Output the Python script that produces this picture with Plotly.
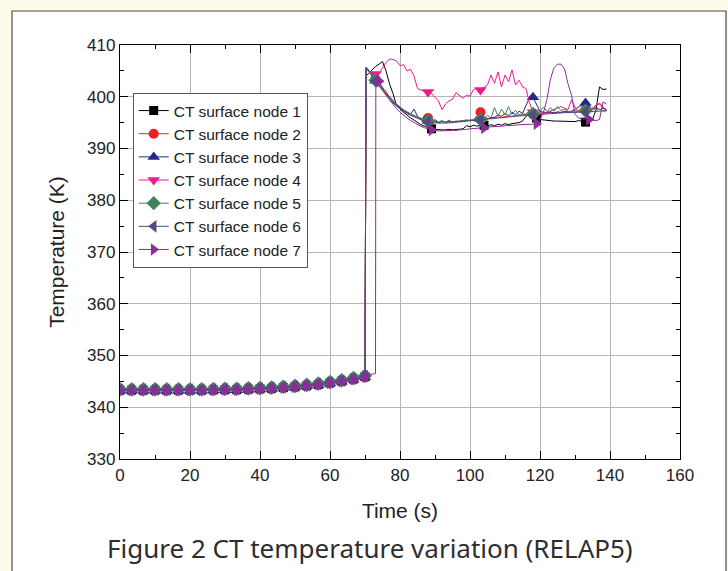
import plotly.graph_objects as go

# ---------------- data ----------------
NAMES = ["CT surface node 1", "CT surface node 2", "CT surface node 3", "CT surface node 4",
         "CT surface node 5", "CT surface node 6", "CT surface node 7"]

T_EARLY = [0, 3.33, 6.67, 10, 13.33, 16.67, 20, 23.33, 26.67, 30, 33.33, 36.67,
           40, 43.33, 46.67, 50, 53.33, 56.67, 60, 63.33, 66.67, 70]

EARLY_1 = [343.3, 343.3, 343.3, 343.3, 343.3, 343.3, 343.3, 343.3, 343.35, 343.4, 343.4, 343.5,
           343.55, 343.65, 343.8, 343.95, 344.15, 344.4, 344.7, 345.05, 345.45, 345.9]
EARLY_2 = [343.3, 343.3, 343.3, 343.3, 343.3, 343.3, 343.3, 343.3, 343.35, 343.4, 343.4, 343.5,
           343.55, 343.65, 343.8, 343.95, 344.15, 344.4, 344.7, 345.05, 345.45, 345.9]
EARLY_3 = [343.2, 343.2, 343.2, 343.2, 343.2, 343.2, 343.2, 343.2, 343.25, 343.3, 343.3, 343.4,
           343.45, 343.55, 343.7, 343.85, 344.05, 344.3, 344.6, 344.95, 345.35, 345.8]
EARLY_4 = [343.1, 343.1, 343.1, 343.1, 343.1, 343.1, 343.1, 343.1, 343.15, 343.2, 343.2, 343.3,
           343.35, 343.45, 343.6, 343.75, 343.95, 344.2, 344.5, 344.85, 345.25, 345.7]
EARLY_5 = [343.5, 343.5, 343.5, 343.5, 343.5, 343.5, 343.5, 343.5, 343.55, 343.6, 343.6, 343.7,
           343.75, 343.85, 344.0, 344.15, 344.35, 344.6, 344.9, 345.25, 345.65, 346.1]
EARLY_6 = [343.4, 343.4, 343.4, 343.4, 343.4, 343.4, 343.4, 343.4, 343.45, 343.5, 343.5, 343.6,
           343.65, 343.75, 343.9, 344.05, 344.25, 344.5, 344.8, 345.15, 345.55, 346.0]
EARLY_7 = [343.3, 343.3, 343.3, 343.3, 343.3, 343.3, 343.3, 343.3, 343.35, 343.4, 343.4, 343.5,
           343.55, 343.65, 343.8, 343.95, 344.15, 344.4, 344.7, 345.05, 345.45, 345.9]

T_LATE = [70.3, 71, 72, 73, 73.1, 74, 75, 76, 77, 78, 79, 80, 81, 82, 83, 84, 85, 86, 87, 88, 89,
          90, 91, 92, 93, 94, 95, 96, 97, 98, 99, 100, 101, 102, 103, 104, 105, 106, 107, 108, 109,
          110, 111, 112, 113, 114, 115, 116, 117, 118, 119, 120, 121, 122, 123, 124, 125, 126, 127,
          128, 129, 130, 131, 132, 133, 134, 135, 136, 137, 138, 139]

LATE_1 = [404.0, 404.5, 405.2, 405.8, 405.9, 406.3, 406.8, 405.0, 402.5, 400.6, 398.3, 397.6,
          397.0, 396.4, 395.9, 395.5, 395.0, 394.6, 394.3, 394.0, 393.8, 393.7, 393.6, 393.6,
          393.6, 393.7, 393.6, 393.7, 393.7, 393.8, 394.4, 394.2, 394.5, 394.3, 394.6, 394.5,
          394.3, 394.6, 394.4, 394.7, 394.5, 394.8, 394.6, 394.8, 394.9, 395.0, 395.3, 396.2,
          396.8, 396.3, 395.9, 395.6, 395.5, 395.4, 395.4, 395.3, 395.3, 395.3, 395.2, 395.2,
          395.3, 395.2, 395.4, 395.3, 395.1, 395.3, 395.6, 397.5, 401.9, 401.4, 401.5]
LATE_2 = [405.5, 405.1, 404.3, 403.4, 403.3, 402.6, 401.8, 401.0, 400.0, 399.3, 398.4, 397.9,
          397.3, 396.9, 396.5, 396.3, 395.9, 395.6, 395.4, 395.9, 395.3, 395.1, 395.0, 395.3,
          395.0, 395.1, 395.2, 395.1, 395.3, 395.3, 395.5, 395.4, 395.6, 396.3, 397.0, 396.2,
          395.8, 395.9, 396.0, 396.1, 396.0, 396.2, 396.3, 396.2, 396.4, 396.4, 396.5, 396.5,
          396.7, 396.6, 396.8, 396.7, 396.9, 396.8, 397.0, 396.9, 397.1, 397.0, 397.2, 397.1,
          397.2, 397.3, 397.2, 397.4, 397.5, 397.3, 397.6, 398.3, 398.8, 398.0, 397.4]
LATE_3 = [405.7, 405.2, 404.1, 403.1, 403.0, 402.2, 401.4, 400.5, 399.7, 399.0, 398.4, 397.9,
          397.4, 396.9, 396.6, 397.6, 396.2, 395.7, 396.1, 395.3, 395.2, 395.4, 395.0, 395.2,
          395.1, 395.3, 395.1, 395.3, 395.2, 395.4, 395.3, 395.5, 395.4, 395.6, 395.7, 395.6,
          395.8, 395.9, 396.0, 396.5, 396.2, 396.8, 396.3, 397.0, 396.5, 397.2, 396.8, 398.2,
          399.8, 399.9, 398.6, 397.2, 397.0, 396.9, 397.1, 396.8, 397.0, 396.9, 397.1, 397.0,
          397.2, 397.6, 398.0, 398.5, 398.8, 398.2, 397.6, 397.9, 397.5, 397.8, 397.5]
LATE_4 = [405.4, 405.0, 404.6, 404.4, 404.4, 404.5, 405.6, 406.6, 407.3, 407.2, 406.9, 406.0,
          406.2, 405.0, 405.3, 404.0, 401.6, 401.3, 401.0, 400.9, 400.6, 399.9, 399.2, 397.5,
          398.6, 399.2, 399.5, 400.8, 400.2, 399.7, 400.3, 400.1, 401.4, 401.6, 401.3, 401.8,
          402.3, 404.2, 402.6, 404.8, 401.9, 404.2, 402.9, 405.2, 402.3, 403.2, 401.9, 401.6,
          398.8, 397.0, 396.8, 396.9, 396.8, 397.0, 397.3, 397.5, 397.8, 398.1, 397.8, 397.5,
          399.4, 398.0, 397.1, 396.9, 397.0, 397.3, 397.8, 398.4, 398.6, 397.8, 397.3]
LATE_5 = [405.6, 405.1, 404.2, 403.2, 403.1, 402.3, 401.5, 400.7, 399.9, 399.2, 398.6, 398.0,
          397.5, 397.1, 396.7, 396.4, 396.1, 395.8, 395.5, 395.3, 395.3, 395.6, 395.1, 395.4,
          395.0, 395.5, 395.1, 395.2, 395.3, 395.3, 395.5, 395.4, 395.6, 395.5, 395.6, 395.7,
          396.4, 395.9, 397.9, 396.3, 397.6, 396.5, 398.1, 396.6, 397.4, 396.5, 396.7, 396.6,
          396.8, 396.7, 396.8, 397.2, 398.0, 397.1, 397.9, 397.2, 398.1, 397.3, 397.6, 397.2,
          397.1, 397.0, 397.2, 397.1, 397.3, 397.2, 397.8, 397.4, 397.6, 397.2, 397.3]
LATE_6 = [405.6, 405.0, 404.0, 403.0, 402.9, 402.1, 401.2, 400.3, 399.5, 398.8, 398.2, 397.7,
          397.2, 396.8, 396.4, 396.1, 395.8, 395.5, 395.3, 395.1, 395.0, 394.9, 394.9, 394.9,
          394.9, 395.0, 395.0, 395.1, 395.1, 395.2, 395.3, 395.3, 395.4, 395.5, 395.5, 395.6,
          395.7, 395.7, 395.8, 395.9, 395.9, 396.0, 396.1, 396.1, 396.2, 396.3, 396.3, 396.4,
          396.4, 396.5, 396.5, 396.6, 396.6, 396.7, 396.7, 396.8, 396.8, 396.9, 396.9, 396.9,
          397.0, 397.0, 397.0, 397.1, 397.1, 397.1, 397.2, 397.2, 397.2, 397.3, 397.3]
LATE_7 = [346.3, 346.4, 346.4, 346.5, 404.0, 403.0, 401.6, 400.4, 399.4, 398.5, 397.7, 397.0,
          396.4, 395.9, 395.4, 395.0, 394.6, 394.3, 394.0, 393.8, 393.6, 393.5, 393.4, 393.4,
          393.4, 393.4, 393.5, 393.5, 393.6, 393.6, 393.7, 393.8, 393.8, 393.9, 394.0, 394.0,
          394.1, 394.2, 394.2, 394.3, 394.3, 394.4, 394.4, 394.5, 394.5, 394.6, 394.6, 394.7,
          394.7, 394.7, 394.8, 395.6, 397.0, 399.5, 403.5, 405.6, 406.3, 406.3, 405.4, 402.5,
          400.3, 396.6, 395.9, 395.7, 395.7, 395.6, 395.5, 395.4, 395.6, 399.0, 398.6]

EARLY = [EARLY_1, EARLY_2, EARLY_3, EARLY_4, EARLY_5, EARLY_6, EARLY_7]
LATE = [LATE_1, LATE_2, LATE_3, LATE_4, LATE_5, LATE_6, LATE_7]

# times (s) at which symbols are drawn in the transient part
MARK_T = [[89, 104, 119, 133]] + [[73, 88, 103, 118, 133]] * 5 + [[74, 89, 104, 119, 134]]

X_TICKS = [0, 20, 40, 60, 80, 100, 120, 140, 160]
Y_TICKS = [330, 340, 350, 360, 370, 380, 390, 400, 410]

# ---------------- style ----------------
COLORS = ["#000000", "#F01E23", "#26268F", "#F2188E", "#41825F", "#4F4B7F", "#8E2B9A"]
SYMBOLS = ["square", "circle", "triangle-up", "triangle-down", "diamond", "triangle-left", "triangle-right"]
SIZES = [9, 10, 11, 11, 11, 11, 11]
FONT = "Arial, Liberation Sans, sans-serif"

fig = go.Figure()
for i in range(7):
    xs = T_EARLY + T_LATE
    ys = EARLY[i] + LATE[i]
    fig.add_trace(go.Scatter(x=xs, y=ys, mode="lines", line=dict(color=COLORS[i], width=1),
                             showlegend=False, hoverinfo="skip"))
    mx = list(T_EARLY)
    my = list(EARLY[i])
    for t in MARK_T[i]:
        k = T_LATE.index(t)
        mx.append(T_LATE[k])
        my.append(LATE[i][k])
    fig.add_trace(go.Scatter(x=mx, y=my, mode="markers",
                             marker=dict(symbol=SYMBOLS[i], size=SIZES[i], color=COLORS[i], line=dict(width=0)),
                             showlegend=False))
    # legend entry
    fig.add_trace(go.Scatter(x=[None], y=[None], mode="lines+markers", name=NAMES[i],
                             line=dict(color=COLORS[i], width=1),
                             marker=dict(symbol=SYMBOLS[i], size=SIZES[i], color=COLORS[i], line=dict(width=0))))

axis_common = dict(
    showline=True, linecolor="#000000", linewidth=1.3, mirror="allticks",
    ticks="inside", ticklen=8, tickwidth=1.3, tickcolor="#000000",
    showgrid=True, gridcolor="#B4B4B4", gridwidth=1.3, zeroline=False,
    tickfont=dict(family=FONT, size=17, color="#222222"),
)

fig.update_xaxes(range=[0, 160], tickvals=X_TICKS, ticktext=[str(v) for v in X_TICKS],
                 minor=dict(ticks="inside", ticklen=4, dtick=10, tick0=0, tickcolor="#000000", showgrid=False),
                 title=dict(text="Time (s)", font=dict(family=FONT, size=21, color="#222222"), standoff=19),
                 **axis_common)
fig.update_yaxes(range=[330, 410], tickvals=Y_TICKS, ticktext=[str(v) for v in Y_TICKS],
                 minor=dict(ticks="inside", ticklen=4, dtick=5, tick0=330, tickcolor="#000000", showgrid=False),
                 title=dict(text="Temperature (K)", font=dict(family=FONT, size=21, color="#222222"), standoff=16),
                 **axis_common)

fig.update_layout(
    width=728, height=571,
    margin=dict(l=120, r=48, t=45, b=112),
    paper_bgcolor="#FFFBEA", plot_bgcolor="#FFFFFF",
    legend=dict(x=0.0227, y=(459 - 93) / 414, xanchor="left", yanchor="top",
                bgcolor="#FFFFFF", bordercolor="#555555", borderwidth=1,
                font=dict(family=FONT, size=15.5, color="#222222"),
                tracegroupgap=0),
    shapes=[dict(type="rect", xref="paper", yref="paper", layer="below",
                 x0=(12 - 120) / 560, x1=(726 - 120) / 560, y0=(459 - 590) / 414, y1=(459 - 11) / 414,
                 line=dict(color="#4A4A4A", width=1.2), fillcolor="#FFFFFF")],
    annotations=[dict(text="Figure 2 CT temperature variation (RELAP5)", xref="paper", yref="paper",
                      x=(370 - 120) / 560, y=(459 - 548) / 414, xanchor="center", yanchor="middle",
                      showarrow=False,
                      font=dict(family="Noto Sans, sans-serif", size=26, color="#2E2E2E"))],
    showlegend=True,
)

fig.write_html("out.html", config={"displayModeBar": False},
               post_script="document.body.style.margin='0';")
